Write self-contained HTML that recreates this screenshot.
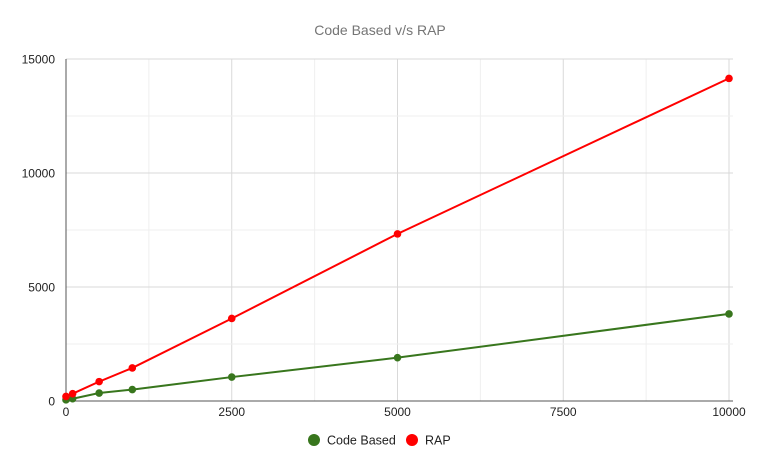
<!DOCTYPE html>
<html><head><meta charset="utf-8"><style>
body{margin:0;background:#fff;}
svg text{font-family:"Liberation Sans",Arial,sans-serif;}
</style></head><body>
<svg width="757" height="470">
<text x="380" y="35" text-anchor="middle" font-size="14" fill="#757575">Code Based v/s RAP</text>
<g id="grid"></g><g id="axes"></g><g id="series"></g>
<g>
<g><circle cx="314" cy="440" r="6" fill="#38761d"/><text x="327" y="444.5" font-size="12.5" fill="#222">Code Based</text></g>
<g><circle cx="412" cy="440" r="6" fill="#ff0000"/><text x="425" y="444.5" font-size="12.5" fill="#222">RAP</text></g>
</g>
</svg>
<script>
const xValues=[0,100,500,1000,2500,5000,10000];
const codeBased=[50,100,350,500,1050,1900,3820];
const rap=[200,320,850,1450,3620,7330,14150];
const xTicks=[0,2500,5000,7500,10000];
const yTicks=[0,5000,10000,15000];
const NS='http://www.w3.org/2000/svg';
const X=v=>66+v/10000*663, Y=v=>401-v/15000*342;
function mk(t,a,p){const e=document.createElementNS(NS,t);for(const k in a)e.setAttribute(k,a[k]);p.appendChild(e);return e;}
const g=document.getElementById('grid'),ax=document.getElementById('axes'),s=document.getElementById('series');
for(let v=1250;v<=10000;v+=1250){const l=mk('line',{x1:X(v),x2:X(v),y1:Y(15000),y2:Y(0),stroke:v%2500?'#efefef':'#d9d9d9','stroke-width':1},g);

}
for(let v=2500;v<=15000;v+=2500){const l=mk('line',{x1:X(0),x2:733,y1:Y(v),y2:Y(v),stroke:v%5000?'#efefef':'#d9d9d9','stroke-width':1},g);

}
const xa=mk('line',{x1:X(0),x2:733,y1:Y(0),y2:Y(0),stroke:'#555','stroke-width':1},ax);


const ya=mk('line',{x1:X(0),x2:X(0),y1:Y(15000),y2:Y(0),stroke:'#555','stroke-width':1},ax);


xTicks.forEach(v=>{const t=mk('text',{x:X(v),y:416,'text-anchor':'middle','font-size':12,fill:'#222'},ax);t.textContent=v;

});
yTicks.forEach(v=>{const t=mk('text',{x:55,y:Y(v)+4.5,'text-anchor':'end','font-size':12,fill:'#222'},ax);t.textContent=v;

});
function draw(vals,color,name){
const pl=mk('polyline',{points:xValues.map((x,i)=>X(x)+','+Y(vals[i])).join(' '),fill:'none',stroke:color,'stroke-width':2},s);


xValues.forEach((x,i)=>{const c=mk('circle',{cx:X(x),cy:Y(vals[i]),r:3.8,fill:color},s);

});}
draw(codeBased,'#38761d','code-based');
draw(rap,'#ff0000','rap');
</script>
</body></html>
